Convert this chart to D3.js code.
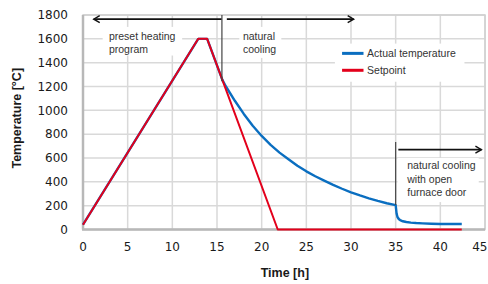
<!DOCTYPE html>
<html><head><meta charset="utf-8">
<script src="https://cdn.jsdelivr.net/npm/d3@7"></script>
<style>body{margin:0;background:#fff}svg{display:block}</style>
</head><body>
<svg id="c" width="488" height="284"></svg>
<script>
const xTicks = [0,5,10,15,20,25,30,35,40,45];
const yTicks = [0,200,400,600,800,1000,1200,1400,1600,1800];
const setT = [0, 12.9, 13.9, 21.8, 42.4];
const setV = [40, 1600, 1600, 0, 0];
const actT = [0, 12.9, 13.9, 15.6, 16, 17, 18, 19, 20, 21, 22, 23, 24, 25, 26, 27, 28, 29, 30, 31, 32, 33, 34, 35, 35.05, 35.1, 35.2, 35.35, 35.5, 35.8, 36.2, 36.7, 37.3, 38, 39, 40, 41, 42, 42.4];
const actV = [40, 1600, 1600, 1256, 1200, 1080, 970, 870, 785, 710, 645, 590, 535, 488, 447, 410, 375, 342, 312, 286, 262, 240, 220, 205, 170, 135, 105, 88, 78, 69, 63, 58, 54, 51, 48, 46, 46, 46, 46];
const seriesNames = ["Actual temperature", "Setpoint"];

const svg = d3.select("#c");
const m = {l:83, r:3, t:15, b:54.5};
const W = 488 - m.l - m.r, H = 284 - m.t - m.b;
const x = d3.scaleLinear().domain([0,45]).range([0,W]);
const y = d3.scaleLinear().domain([0,1800]).range([H,0]);
const g = svg.append("g").attr("transform",`translate(${m.l},${m.t})`);

// grid
g.selectAll(".gy").data(yTicks).join("line").attr("x1",0).attr("x2",W)
  .attr("y1",d=>y(d)).attr("y2",d=>y(d)).attr("stroke","#d9d9d9").attr("stroke-width",1.5);
g.selectAll(".gx").data(xTicks).join("line").attr("y1",0).attr("y2",H)
  .attr("x1",d=>x(d)).attr("x2",d=>x(d)).attr("stroke","#d9d9d9").attr("stroke-width",1.5);
// border
g.append("rect").attr("x",0).attr("y",0).attr("width",W).attr("height",H)
  .attr("fill","none").attr("stroke","#d0d0d0").attr("stroke-width",1.5);
g.append("line").attr("x1",0).attr("x2",0).attr("y1",0).attr("y2",H).attr("stroke","#b8b8b8").attr("stroke-width",2.5);
g.append("line").attr("x1",-1).attr("x2",W).attr("y1",H).attr("y2",H).attr("stroke","#b8b8b8").attr("stroke-width",2.5);

// white boxes for annotations (in data units)
const boxes = [[2.2,1700,11.1,1460],[17.5,1700,22.2,1440],[28.2,1560,42.7,1240],[35.2,600,44.3,230]];
g.selectAll(".bx").data(boxes).join("rect")
  .attr("x",d=>x(d[0])).attr("y",d=>y(d[1])).attr("width",d=>x(d[2])-x(d[0])).attr("height",d=>y(d[3])-y(d[1]))
  .attr("fill","#fff");

// ticks
g.selectAll(".ty").data(yTicks).join("text").attr("x",-15).attr("y",d=>y(d)).attr("dy","0.36em")
  .attr("text-anchor","end").attr("font-family","DejaVu Sans, Verdana, sans-serif").attr("font-size",12).attr("fill","#1a1a1a").text(d=>d);
g.selectAll(".tx").data(xTicks).join("text").attr("x",(d,i)=>i===xTicks.length-1 ? W+2.5 : x(d)).attr("y",H+21.5)
  .attr("text-anchor",(d,i)=>i===xTicks.length-1 ? "end" : "middle").attr("font-family","DejaVu Sans, Verdana, sans-serif").attr("font-size",12).attr("fill","#1a1a1a").text(d=>d);

// titles
svg.append("text").attr("x",m.l+x(22.6)).attr("y",277).attr("text-anchor","middle")
  .attr("font-family","Liberation Sans, Arial, sans-serif").attr("font-weight","bold").attr("font-size",12.5).attr("fill","#1a1a1a").text("Time [h]");
svg.append("text").attr("transform",`translate(21,${m.t+H/2-4}) rotate(-90)`).attr("text-anchor","middle")
  .attr("font-family","Liberation Sans, Arial, sans-serif").attr("font-weight","bold").attr("font-size",12.5).attr("fill","#1a1a1a").text("Temperature [°C]");

// lines
const line = d3.line().x(d=>x(d[0])).y(d=>y(d[1]));
g.append("path").datum(actT.map((t,i)=>[t,actV[i]])).attr("d",line)
  .attr("fill","none").attr("stroke","#0a6ec0").attr("stroke-width",2.4).attr("stroke-linejoin","round");
g.append("path").datum(setT.map((t,i)=>[t,setV[i]])).attr("d",line)
  .attr("fill","none").attr("stroke","#e3001b").attr("stroke-width",2).attr("stroke-linejoin","round");

// annotations
const ann = g.append("g").attr("font-family","Liberation Sans, Arial, sans-serif").attr("font-size",10.5).attr("fill","#333");
function arrow(t1,t2,v){
  const x1=x(t1), x2=x(t2), yy=y(v), dir = Math.sign(x2-x1);
  ann.append("line").attr("x1",x1).attr("x2",x2).attr("y1",yy).attr("y2",yy).attr("stroke","#111").attr("stroke-width",1.6);
  ann.append("path").attr("d",`M${x2-dir*6},${yy-3.5}L${x2},${yy}L${x2-dir*6},${yy+3.5}`).attr("fill","none").attr("stroke","#111").attr("stroke-width",1.4);
}
function vline(t,v1,v2){
  ann.append("line").attr("x1",x(t)).attr("x2",x(t)).attr("y1",y(v1)).attr("y2",y(v2)).attr("stroke","#444").attr("stroke-width",1.2);
}
vline(15.55,1800,1245);
arrow(15.5,1.2,1765);
arrow(16.1,30.3,1765);
vline(35,735,205);
arrow(35.3,44.6,670);
function txt(t,v,s){ ann.append("text").attr("x",x(t)).attr("y",y(v)).text(s); }
txt(2.9,1590,"preset heating"); txt(2.9,1485,"program");
txt(17.9,1590,"natural"); txt(17.9,1485,"cooling");
txt(36.3,505,"natural cooling"); txt(36.3,390,"with open"); txt(36.3,283,"furnace door");
// legend
const leg = [[seriesNames[0],"#0a6ec0",1478],[seriesNames[1],"#e3001b",1336]];
leg.forEach(d=>{
  ann.append("line").attr("x1",x(29)).attr("x2",x(31.4)).attr("y1",y(d[2])).attr("y2",y(d[2])).attr("stroke",d[1]).attr("stroke-width",3);
  ann.append("text").attr("x",x(31.8)).attr("y",y(d[2])).attr("dy","0.35em").text(d[0]);
});
</script>
</body></html>
